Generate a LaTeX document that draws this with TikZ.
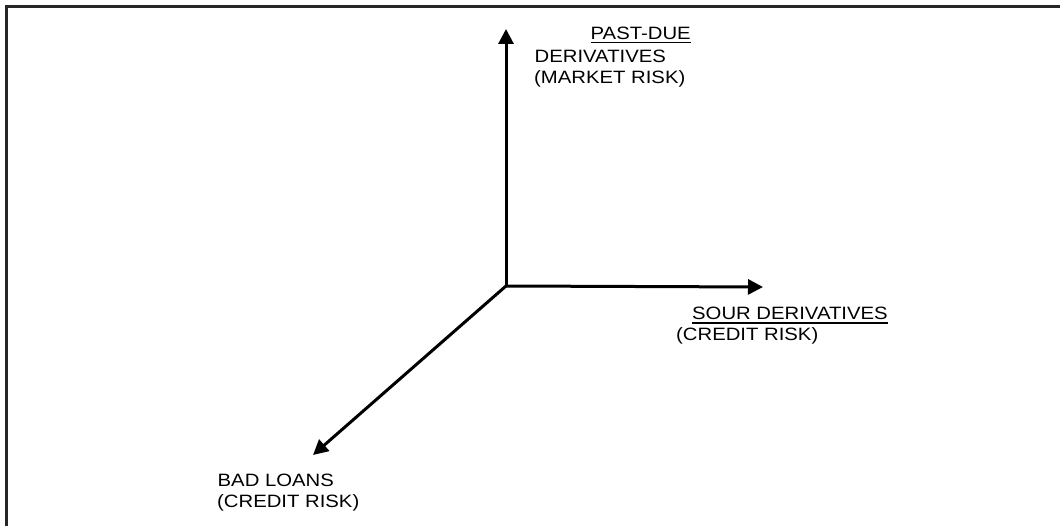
\documentclass[tikz,border=0pt]{standalone}
\usepackage{fontspec}
\setmainfont{Liberation Sans}
\usetikzlibrary{arrows.meta}
\newcommand\sq[1]{\scalebox{1}[0.88]{#1}}
\begin{document}
\begin{tikzpicture}[x=1pt,y=-1pt,
  frame/.style={line width=2.2pt,draw=black!85},
  axis/.style={line width=3pt,-{Triangle[length=15pt,width=15pt]}},
  lbl/.style={anchor=base west,inner sep=0pt,font=\fontsize{20.3pt}{23pt}\selectfont},
  uline/.style={line width=1.8pt}]
\useasboundingbox (0,0) rectangle (1060,526);
% frame
\draw[frame] (6.5,526) -- (6.5,6.5) -- (1060,6.5);
% axes
\coordinate (O) at (506,286);
\coordinate (up) at (506,29);
\coordinate (rt) at (763,287);
\coordinate (dl) at (313,455);
\draw[axis] (O) -- (up);
\draw[axis] (O) -- (rt);
\draw[axis] (O) -- (dl);
% labels
\node[lbl] (pd) at (590.5,39.5) {\sq{PAST-DUE}};
\node[lbl] (der) at (534.5,62.7) {\sq{DERIVATIVES}};
\node[lbl] (mr) at (534,83.3) {\sq{(MARKET RISK)}};
\draw[uline] ([yshift=-3pt]pd.base west) -- ([yshift=-3pt]pd.base east);
\node[lbl] (sd) at (692,320) {\sq{SOUR DERIVATIVES}};
\node[lbl] (cr1) at (676,340.5) {\sq{(CREDIT RISK)}};
\draw[uline] ([yshift=-3pt]sd.base west) -- ([yshift=-3pt]sd.base east);
\node[lbl] (bl) at (217.5,486) {\sq{BAD LOANS}};
\node[lbl] (cr2) at (217,507) {\sq{(CREDIT RISK)}};
\end{tikzpicture}
\end{document}
